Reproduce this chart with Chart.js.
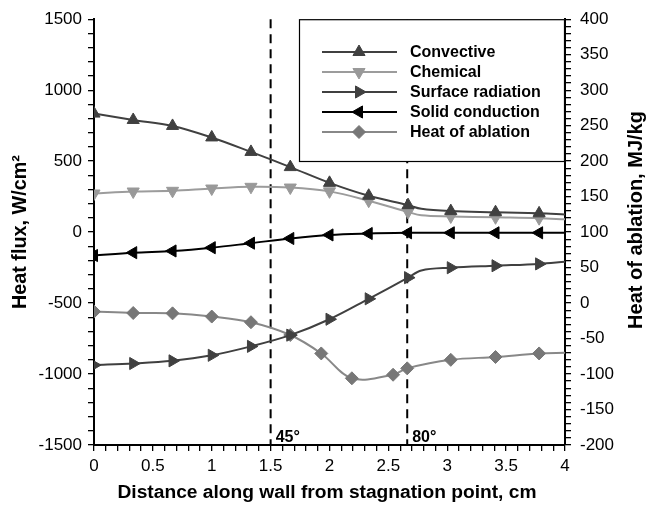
<!DOCTYPE html>
<html>
<head>
<meta charset="utf-8">
<script src="https://cdn.jsdelivr.net/npm/chart.js@4/dist/chart.umd.min.js"></script>
<style>
body { margin: 0; background: #fff; }
</style>
</head>
<body>
<canvas id="chart" width="655" height="505"></canvas>
<script>
//distance along the wall, cm (points at 2.78 and 4 carry no marker)
const distance = [0, 0.333, 0.667, 1, 1.333, 1.667, 2, 2.333, 2.667, 2.78, 3.03, 3.41, 3.78, 4];
const ablationDistance = [0, 0.333, 0.667, 1, 1.333, 1.667, 1.93, 2.19, 2.54, 2.66, 3.03, 3.41, 3.78, 4];
const unmarked = [2.78, 4];

//heat flux, W/cm2 (left axis)
const convective = [835, 790, 748, 667, 565, 458, 347, 256, 190, 164, 148, 140, 132, 124];
const chemical = [272, 286, 291, 307, 319, 314, 287, 221, 142, 118, 110, 104, 98, 90];
const surfaceRadiation = [-937, -926, -907, -868, -805, -726, -614, -470, -321, -270, -251, -237, -224, -209];
const solidConduction = [-165, -145, -133, -110, -78, -45, -20, -10, -5, -5, -5, -5, -5, -5];

//heat of ablation, MJ/kg (right axis)
const heatOfAblation = [-12, -14, -14.5, -19, -27, -45, -71, -106, -101, -92, -80, -76, -71, -70];

//tick labels
const xTickLabels = [0, 0.5, 1, 1.5, 2, 2.5, 3, 3.5, 4];
const fluxTickLabels = [-1500, -1000, -500, 0, 500, 1000, 1500];
const ablationTickLabels = [-200, -150, -100, -50, 0, 50, 100, 150, 200, 250, 300, 350, 400];

//dashed angle markers
const angleX = [1.5, 2.66];
const angleLabels = ['45°', '80°'];

const FONT = '"Liberation Sans", Arial, Helvetica, sans-serif';

const toPoints = (xs, ys) => xs.map((x, i) => ({x: x, y: ys[i]}));

const makeSeries = (label, xs, ys, color, lineColor, rotation, style, radius, axis) => ({
    label: label,
    data: toPoints(xs, ys),
    yAxisID: axis,
    borderColor: lineColor,
    backgroundColor: color,
    pointBackgroundColor: color,
    pointBorderColor: color,
    borderWidth: 2,
    pointStyle: style,
    rotation: rotation,
    pointBorderWidth: 1,
    pointRadius: (ctx) => (ctx.raw && unmarked.includes(ctx.raw.x) ? 0 : radius),
    pointHoverRadius: 0,
    tension: 0.35,
    fill: false,
});

const datasets = [
    makeSeries('Convective', distance, convective, '#404040', '#404040', 0, 'triangle', 7, 'y'),
    makeSeries('Chemical', distance, chemical, '#999999', '#9c9c9c', 180, 'triangle', 7, 'y'),
    makeSeries('Surface radiation', distance, surfaceRadiation, '#404040', '#404040', 90, 'triangle', 7, 'y'),
    makeSeries('Solid conduction', distance, solidConduction, '#000000', '#000000', 270, 'triangle', 7, 'y'),
    makeSeries('Heat of ablation', ablationDistance, heatOfAblation, '#777777', '#888888', 0, 'rectRot', 6.5, 'y2'),
];

//ticks every step between min and max, labels only on the listed values
const minorTicks = (min, max, step) => {
    const ticks = [];
    const n = Math.round((max - min) / step);
    for (let i = 0; i <= n; i++) {
        ticks.push({value: Math.round((min + i * step) * 1000) / 1000});
    }
    return ticks;
};

const axisStyle = (labels, padding) => ({
    grid: {display: true, drawOnChartArea: false, drawTicks: true, tickLength: 6, color: '#000', lineWidth: 1.3},
    border: {display: true, color: '#000', width: 2},
    ticks: {
        autoSkip: false,
        maxRotation: 0,
        padding: padding,
        color: '#000',
        font: {family: FONT, size: 17},
        callback: (value) => (labels.includes(value) ? String(value) : ''),
    },
});

//rotated axis title, reading bottom to top
const verticalTitle = (ctx, text, x, y) => {
    ctx.save();
    ctx.translate(x, y);
    ctx.rotate(-Math.PI / 2);
    ctx.fillText(text, 0, 0);
    ctx.restore();
};

//draws the dashed lines, legend and axis titles
const decorations = {
    id: 'decorations',
    beforeDatasetsDraw(chart) {
        const ctx = chart.ctx;
        const area = chart.chartArea;
        const xScale = chart.scales.x;
        ctx.save();
        ctx.strokeStyle = '#000';
        ctx.lineWidth = 2;
        ctx.setLineDash([9, 6]);
        angleX.forEach((v, i) => {
            const px = xScale.getPixelForValue(v);
            ctx.beginPath();
            ctx.moveTo(px, area.top);
            ctx.lineTo(px, area.bottom);
            ctx.stroke();
            ctx.fillStyle = '#000';
            ctx.font = 'bold 16px ' + FONT;
            ctx.textAlign = 'left';
            ctx.textBaseline = 'alphabetic';
            ctx.fillText(angleLabels[i], px + 5, area.bottom - 3);
        });
        ctx.restore();
    },
    afterDatasetsDraw(chart) {
        const ctx = chart.ctx;
        const area = chart.chartArea;
        const box = {left: 299, top: area.top, right: area.right, bottom: 162};
        ctx.save();
        ctx.fillStyle = '#fff';
        ctx.fillRect(box.left, box.top, box.right - box.left, box.bottom - box.top);
        ctx.strokeStyle = '#000';
        ctx.lineWidth = 1.2;
        ctx.strokeRect(box.left + 0.5, box.top + 0.5, box.right - box.left - 1, box.bottom - box.top - 1);

        chart.data.datasets.forEach((ds, i) => {
            const y = 52 + i * 20;
            ctx.strokeStyle = ds.borderColor;
            ctx.lineWidth = 2;
            ctx.beginPath();
            ctx.moveTo(322, y);
            ctx.lineTo(397, y);
            ctx.stroke();
            ctx.fillStyle = ds.pointBackgroundColor;
            ctx.strokeStyle = ds.pointBorderColor;
            ctx.lineWidth = 1;
            Chart.helpers.drawPoint(ctx, {
                pointStyle: ds.pointStyle,
                rotation: ds.rotation,
                radius: ds.pointStyle === 'rectRot' ? 6.5 : 7,
                borderWidth: 1,
            }, 359, y);
            ctx.fillStyle = '#000';
            ctx.font = 'bold 16px ' + FONT;
            ctx.textAlign = 'left';
            ctx.textBaseline = 'middle';
            ctx.fillText(ds.label, 410, y + 1);
        });

        //axis titles
        const mid = (area.top + area.bottom) / 2;
        ctx.fillStyle = '#000';
        ctx.textAlign = 'center';
        ctx.textBaseline = 'middle';
        ctx.font = 'bold 19.2px ' + FONT;
        ctx.fillText('Distance along wall from stagnation point, cm', 327, 493);

        ctx.font = 'bold 19.8px ' + FONT;
        verticalTitle(ctx, 'Heat flux, W/cm²', 21, mid);

        ctx.font = 'bold 20px ' + FONT;
        verticalTitle(ctx, 'Heat of ablation, MJ/kg', 636, 220);

        ctx.restore();
    },
};

const xAxis = axisStyle(xTickLabels, 5);
xAxis.type = 'linear';
xAxis.position = 'bottom';
xAxis.min = 0;
xAxis.max = 4;
xAxis.afterBuildTicks = (scale) => { scale.ticks = minorTicks(0, 4, 0.1); };
xAxis.afterFit = (scale) => { scale.height = 60; };

const yAxis = axisStyle(fluxTickLabels, 6);
yAxis.type = 'linear';
yAxis.position = 'left';
yAxis.min = -1500;
yAxis.max = 1500;
yAxis.afterBuildTicks = (scale) => { scale.ticks = minorTicks(-1500, 1500, 100); };
yAxis.afterFit = (scale) => { scale.width = 94; };

const y2Axis = axisStyle(ablationTickLabels, 9);
y2Axis.type = 'linear';
y2Axis.position = 'right';
y2Axis.min = -200;
y2Axis.max = 400;
y2Axis.afterBuildTicks = (scale) => { scale.ticks = minorTicks(-200, 400, 10); };
y2Axis.afterFit = (scale) => { scale.width = 90; };

new Chart(document.getElementById('chart'), {
    type: 'line',
    data: {datasets: datasets},
    options: {
        responsive: false,
        animation: false,
        events: [],
        layout: {padding: {top: 15, left: 0, right: 0, bottom: 0}},
        plugins: {
            legend: {display: false},
            tooltip: {enabled: false},
        },
        scales: {x: xAxis, y: yAxis, y2: y2Axis},
    },
    plugins: [decorations],
});
</script>
</body>
</html>
